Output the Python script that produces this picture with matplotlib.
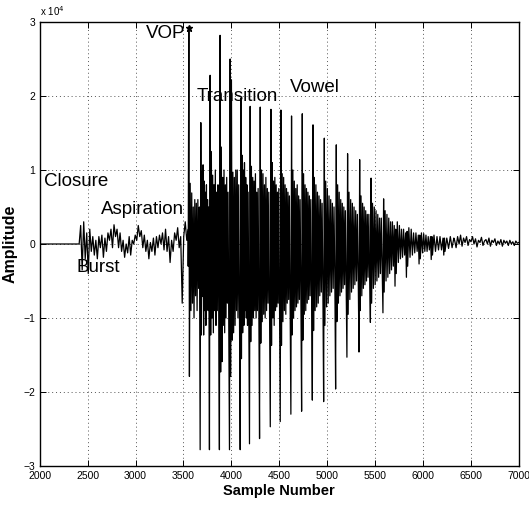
import numpy as np
import matplotlib
matplotlib.use("Agg")
import matplotlib.pyplot as plt

plt.rcParams['font.family'] = ['Liberation Sans', 'DejaVu Sans']

# closure : flat signal (sample, amplitude x 1e4)
closure_x = [2000, 2411]
closure_amp = [0.0, 0.0]

# burst + aspiration noise, read from 2411 to 3550
asp_start, asp_end = 2411, 3550
asp_amp = [0, 0.25, -0.35, 0.3, -0.2, 0.15, -0.4, 0.2, -0.1, 0.1, -0.15, 0.05, -0.2, 0.1,
           -0.05, 0.12, -0.18, 0.08, -0.1, 0.15, 0.05, 0.2, -0.05, 0.26, 0.1, 0.2, -0.05,
           0.15, -0.1, 0.05, -0.18, 0.0, -0.12, 0.1, -0.15, 0.05, 0.0, 0.12, 0.05, 0.25,
           0.1, 0.18, -0.05, 0.12, -0.1, 0.05, -0.2, 0.02, -0.1, 0.08, -0.15, 0.1, -0.05,
           0.12, 0.0, 0.15, -0.08, 0.2, -0.1, 0.1, -0.25, 0.05, -0.1, 0.15, 0.05, 0.22,
           -0.05, 0.1, -0.8, 0.1, 0.3, 0.05, 0.2]

# voiced part : pitch epochs, main positive / negative spikes
epoch = [3556, 3681, 3778, 3882, 3987, 4099, 4196, 4301, 4413, 4517, 4628, 4740,
         4852, 4970, 5095, 5213, 5339, 5458, 5589, 5715, 5834, 5966, 6093, 6224]
pos_amp = [2.92, 1.64, 2.28, 2.82, 2.50, 1.97, 1.86, 1.85, 1.82, 1.81, 1.73, 1.76,
           1.61, 1.43, 1.34, 1.22, 1.14, 0.89, 0.61, 0.20, 0.17, 0.12, 0.10, 0.08]
neg_amp = [-0.3, -2.78, -2.78, -2.78, -2.78, -2.78, -2.70, -2.63, -2.47, -2.40, -2.30, -2.26,
           -2.11, -2.13, -1.96, -1.53, -1.46, -1.06, -0.93, -0.57, -0.45, -0.27, -0.21, -0.15]

# smaller oscillations inside each pitch period
sec_amp = [
    [-1.79, 0.82, -0.9, 0.69, -0.8, 0.5, -1.0, 0.6, -0.7, 0.55, -0.9, 0.6, -0.6, 0.5],
    [-1.23, 0.98, -0.71, 1.07, -1.23, 0.85, -0.9, 0.7, -1.1, 0.8, -0.8, 0.6, -0.9, 0.5],
    [-1.23, 1.25, -1.0, 0.93, -1.2, 0.8, -0.9, 1.0, -1.1, 0.7, -0.9, 0.8, -0.7],
    [-1.73, 1.31, -1.59, 0.9, -1.1, 1.0, -1.2, 0.8, -1.0, 0.9, -0.8, 0.7, -1.0],
    [-1.79, 2.22, -1.3, 0.97, -1.2, 0.9, -1.1, 1.0, -0.9, 1.0, -1.0, 0.8, -0.8],
    [-1.55, 1.2, -1.2, 1.0, -1.1, 1.1, -0.9, 0.9, -1.0, 0.8, -1.1, 0.7, -0.8],
    [-1.32, 1.05, -1.1, 0.9, -1.0, 0.85, -0.9, 0.95, -1.0, 0.7, -0.9, 0.75, -0.7],
    [-1.34, 1.0, -1.05, 0.95, -0.95, 0.8, -1.0, 0.9, -0.9, 0.75, -0.8, 0.7, -0.8],
    [-1.37, 1.1, -1.0, 0.85, -1.1, 0.9, -0.9, 0.8, -0.85, 0.7, -0.8, 0.75, -0.7],
    [-1.37, 0.95, -1.05, 0.9, -0.9, 0.8, -0.95, 0.75, -0.8, 0.7, -0.75, 0.65, -0.7],
    [-1.23, 1.0, -1.0, 0.85, -0.9, 0.75, -0.85, 0.8, -0.8, 0.65, -0.75, 0.6, -0.6],
    [-1.3, 0.95, -0.95, 0.8, -0.9, 0.75, -0.8, 0.7, -0.75, 0.65, -0.7, 0.6, -0.6],
    [-1.17, 0.9, -0.9, 0.8, -0.85, 0.7, -0.8, 0.65, -0.7, 0.6, -0.65, 0.55, -0.6],
    [-1.1, 0.85, -0.85, 0.75, -0.8, 0.65, -0.7, 0.6, -0.65, 0.55, -0.6, 0.5, -0.5],
    [-1.05, 0.8, -0.8, 0.7, -0.7, 0.6, -0.65, 0.55, -0.6, 0.5, -0.55, 0.45, -0.5],
    [-0.95, 0.7, -0.75, 0.6, -0.65, 0.55, -0.6, 0.5, -0.55, 0.45, -0.5, 0.4, -0.45],
    [-0.9, 0.65, -0.7, 0.55, -0.6, 0.5, -0.55, 0.45, -0.5, 0.4, -0.45, 0.4, -0.4],
    [-0.8, 0.55, -0.6, 0.5, -0.55, 0.45, -0.5, 0.4, -0.45, 0.35, -0.4, 0.35, -0.35],
    [-0.65, 0.45, -0.5, 0.4, -0.45, 0.35, -0.4, 0.3, -0.35, 0.3, -0.3, 0.25],
    [-0.4, 0.3, -0.25, 0.25, -0.2, 0.2, -0.18, 0.2, -0.15, 0.15],
    [-0.3, 0.22, -0.18, 0.2, -0.15, 0.15, -0.12, 0.15, -0.1, 0.12],
    [-0.2, 0.15, -0.12, 0.14, -0.1, 0.12, -0.1, 0.1, -0.08, 0.1],
    [-0.15, 0.12, -0.1, 0.1, -0.08, 0.1, -0.08, 0.08],
    [-0.1, 0.08, -0.06, 0.1, -0.05, 0.08],
]

# low level noise after the vowel, 6330 to 7000
tail_start, tail_end = 6330, 7000
tail_amp = [0.05, -0.05, 0.1, 0.0, 0.12, -0.03, 0.08, 0.02, 0.1, -0.02, 0.06, 0.03, 0.1,
            0.0, 0.07, -0.04, 0.05, 0.02, 0.09, -0.02, 0.04, 0.06, 0.0, 0.08, -0.03, 0.05,
            0.02, 0.07, -0.02, 0.04, 0.0, 0.06, -0.03, 0.05, 0.01, 0.04, -0.02, 0.05, 0.0,
            0.03, -0.02, 0.04, 0.01, 0.02]

# text labels (text, sample, amplitude, alignment)
labels = [("Closure", 2042, 0.85, 'left'), ("Burst", 2387, -0.32, 'left'),
          ("Aspiration", 2637, 0.46, 'left'), ("VOP", 3525, 2.84, 'right'),
          ("Transition", 3640, 1.99, 'left'), ("Vowel", 4612, 2.12, 'left')]

# put the read values in order along the sample axis
xs = list(closure_x)
ys = list(closure_amp)
xs += list(np.linspace(asp_start, asp_end, len(asp_amp)))
ys += asp_amp
for i in range(len(epoch)):
    xs += [epoch[i] - 7, epoch[i]]
    ys += [neg_amp[i], pos_amp[i]]
    nxt = epoch[i + 1] - 7 if i + 1 < len(epoch) else tail_start
    xs += list(np.linspace(epoch[i] + 6, nxt - 8, len(sec_amp[i])))
    ys += sec_amp[i]
xs += list(np.linspace(tail_start, tail_end, len(tail_amp)))
ys += tail_amp
xs = np.array(xs)
ys = np.array(ys)

fig = plt.figure(figsize=(5.29, 5.08), dpi=100)
ax = fig.add_axes([0.0752, 0.0827, 0.9055, 0.874])
ax.plot(xs, ys, color='black', lw=0.9)
# VOP marker
ax.plot(epoch[0], pos_amp[0], marker='*', color='black', ms=5)

for txt, sx, sy, ha in labels:
    ax.text(sx, sy, txt, fontsize=13.5, ha=ha, va='center')

ax.set_xlim(2000, 7000)
ax.set_ylim(-3, 3)
ax.set_xticks(np.arange(2000, 7001, 500))
ax.set_yticks(np.arange(-3, 4, 1))
ax.set_yticklabels(['\u22123', '\u22122', '\u22121', '0', '1', '2', '3'])
ax.tick_params(direction='in', top=True, right=True, labelsize=7.5, length=4, width=0.7)
ax.grid(True, linestyle=(0, (1, 3)), color='#555555', lw=0.7)
for s in ax.spines.values():
    s.set_linewidth(1.0)
ax.text(0.0, 1.008, 'x 10$^4$', transform=ax.transAxes, fontsize=7, va='bottom')
ax.set_xlabel('Sample Number', fontsize=10.5, fontweight='bold', labelpad=2)
ax.set_ylabel('Amplitude', fontsize=11.5, fontweight='bold', labelpad=4)

fig.savefig('out.png', dpi=100)
